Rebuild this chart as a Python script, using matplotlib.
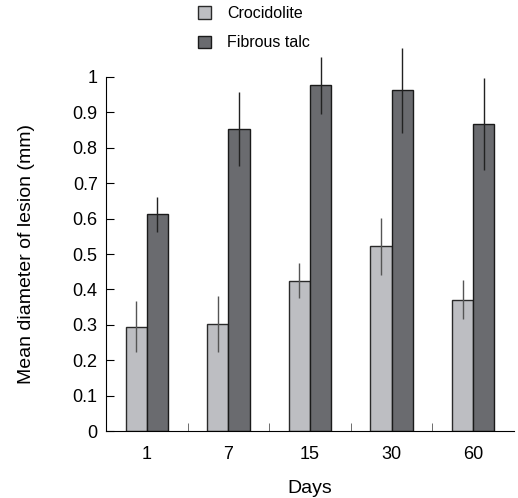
import matplotlib
matplotlib.use("Agg")
import matplotlib.pyplot as plt
import numpy as np

DAYS = ["1", "7", "15", "30", "60"]
CROC = [0.295, 0.302, 0.425, 0.522, 0.371]
CROC_ERR = [0.072, 0.080, 0.050, 0.080, 0.055]
TALC = [0.612, 0.853, 0.976, 0.963, 0.866]
TALC_ERR = [0.050, 0.105, 0.080, 0.120, 0.130]

plt.rcParams["font.family"] = ["Liberation Sans", "DejaVu Sans"]

fig = plt.figure(figsize=(5.18, 4.98), dpi=100)
ax = fig.add_axes([0.2046, 0.1345, 0.7876, 0.782])

x = np.arange(len(DAYS))
w = 0.26
ax.bar(x - w / 2, CROC, w, color="#bdbec2", edgecolor="#2a2a2a", lw=1.0,
       label="Crocidolite", zorder=2)
ax.bar(x + w / 2, TALC, w, color="#6a6b6f", edgecolor="#1a1a1a", lw=1.0,
       label="Fibrous talc", zorder=2)
ax.errorbar(x - w / 2, CROC, yerr=CROC_ERR, fmt="none", ecolor="#555555",
            elinewidth=1.0, capsize=0, zorder=3, clip_on=False)
ax.errorbar(x + w / 2, TALC, yerr=TALC_ERR, fmt="none", ecolor="#222222",
            elinewidth=1.0, capsize=0, zorder=3, clip_on=False)

ax.set_xlim(-0.5, 4.5)
ax.set_ylim(0, 1.1)
ax.set_yticks(np.arange(0, 1.01, 0.1))
ax.set_yticklabels(["0"] + [f"{v:.1f}" for v in np.arange(0.1, 0.95, 0.1)] + ["1"])
ax.set_xticks(x)
ax.set_xticklabels(DAYS)
ax.set_xticks(np.arange(0.5, 4.0, 1.0), minor=True)
ax.tick_params(axis="x", which="major", length=0, labelsize=13, pad=11)
ax.tick_params(axis="x", which="minor", direction="in", length=6, color="#555555")
ax.tick_params(axis="y", direction="in", length=6, labelsize=13, pad=6)
ax.spines[["top", "right"]].set_visible(False)
ax.spines["left"].set_bounds(0, 1)
ax.set_xlabel("Days", fontsize=14, labelpad=12)
ax.set_ylabel("Mean diameter of lesion (mm)", fontsize=14)
ax.yaxis.set_label_coords(-0.173, 0.5 / 1.1)

fig.legend(loc="upper left", bbox_to_anchor=(198 / 518, 1 - 6 / 498), frameon=False,
           fontsize=11.5, handlelength=0.8, handleheight=0.8, labelspacing=0.9,
           handletextpad=1.0, borderpad=0, borderaxespad=0)

fig.savefig("out.png", dpi=100)
